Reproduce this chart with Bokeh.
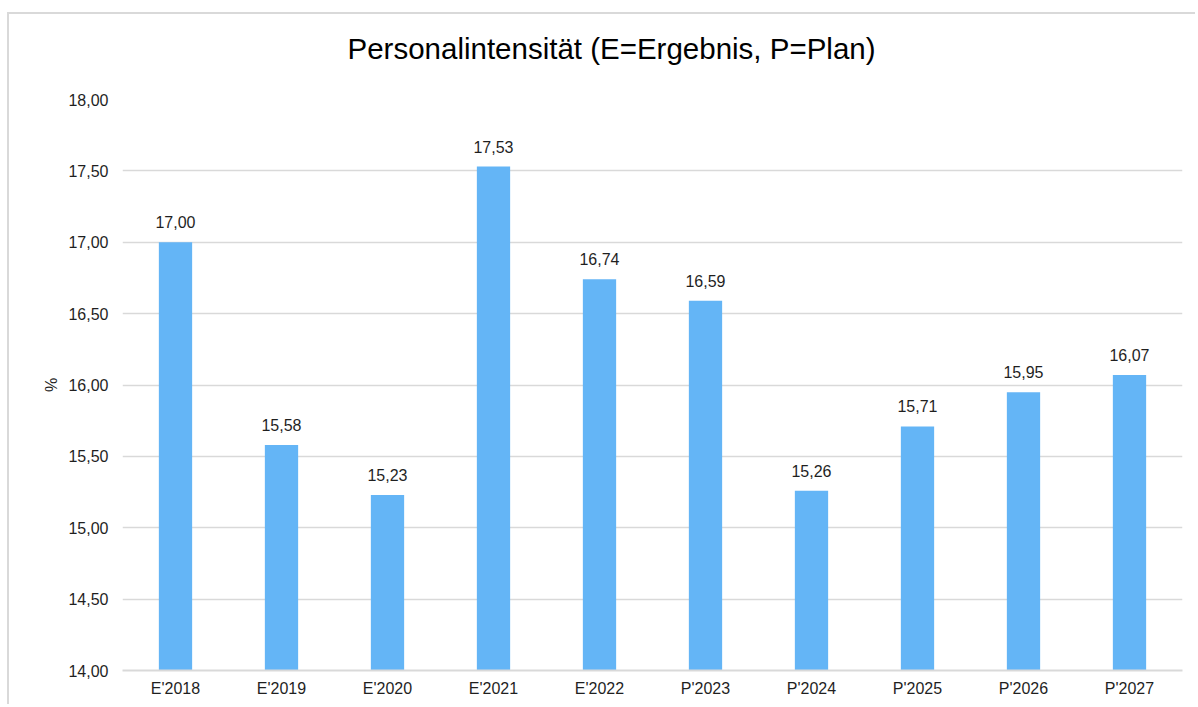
from bokeh.plotting import figure
from bokeh.models import (ColumnDataSource, FactorRange, Range1d, FixedTicker,
                          CustomJSTickFormatter, LabelSet)
from bokeh.core.properties import value
from bokeh.embed import file_html
from bokeh.resources import INLINE

categories = ["E'2018", "E'2019", "E'2020", "E'2021", "E'2022",
              "P'2023", "P'2024", "P'2025", "P'2026", "P'2027"]
values = [17.00, 15.58, 15.23, 17.53, 16.74, 16.59, 15.26, 15.71, 15.95, 16.07]
value_labels = ["17,00", "15,58", "15,23", "17,53", "16,74",
                "16,59", "15,26", "15,71", "15,95", "16,07"]
y_ticks = [14.0, 14.5, 15.0, 15.5, 16.0, 16.5, 17.0, 17.5, 18.0]
title_text = "Personalintensität (E=Ergebnis, P=Plan)"
y_label = "%"

FONT = "Liberation Sans"
TXT = "#1f1f1f"
GRID = "#d9d9d9"

src = ColumnDataSource(dict(cat=categories, val=values, lab=value_labels))

p = figure(x_range=FactorRange(*categories, range_padding=0),
           y_range=Range1d(14, 18),
           width=1188, height=692,
           output_backend="svg", toolbar_location=None,
           min_border_left=113, min_border_right=15,
           min_border_top=85, min_border_bottom=36)
# outer chart border (only left and top edges are visible in the reference)
p.styles = {"margin-left": "7px", "margin-top": "12px",
            "border-left": "2px solid #d9d9d9",
            "border-top": "2px solid #d9d9d9"}

p.title.text = title_text + "\n"
p.title.text_font = FONT
p.title.text_font_size = "29.5px"
p.title.text_font_style = "normal"
p.title.text_color = "#000000"
p.title.align = "left"
p.title.offset = 225
p.title.vertical_align = "top"
p.title.standoff = 0

p.outline_line_color = None
p.background_fill_color = "white"
p.border_fill_color = "white"

p.vbar(x="cat", top="val", bottom=14, width=0.314, source=src,
       fill_color="#64b5f6", line_color=None)

labels = LabelSet(x="cat", y="val", text="lab", source=src,
                  text_align="center", text_baseline="alphabetic",
                  y_offset=14, text_font=value(FONT), text_font_size="16px",
                  text_color=TXT)
p.add_layout(labels)

# y axis
p.yaxis.ticker = FixedTicker(ticks=y_ticks)
p.yaxis.formatter = CustomJSTickFormatter(code="return tick.toFixed(2).replace('.', ',');")
p.yaxis.axis_line_color = None
p.yaxis.major_tick_line_color = None
p.yaxis.minor_tick_line_color = None
p.yaxis.major_tick_out = 0
p.yaxis.major_tick_in = 0
p.yaxis.minor_tick_out = 0
p.yaxis.major_label_standoff = 14
p.yaxis.major_label_text_font = FONT
p.yaxis.major_label_text_font_size = "16px"
p.yaxis.major_label_text_color = TXT
p.yaxis.axis_label = y_label
p.yaxis.axis_label_text_font = FONT
p.yaxis.axis_label_text_font_size = "16px"
p.yaxis.axis_label_text_font_style = "normal"
p.yaxis.axis_label_text_color = TXT
p.yaxis.axis_label_standoff = 5

# x axis
p.xaxis.axis_line_color = GRID
p.xaxis.axis_line_width = 2
p.xaxis.major_tick_line_color = None
p.xaxis.minor_tick_line_color = None
p.xaxis.major_tick_out = 0
p.xaxis.major_tick_in = 0
p.xaxis.minor_tick_out = 0
p.xaxis.major_label_standoff = 9
p.xaxis.major_label_text_font = FONT
p.xaxis.major_label_text_font_size = "16px"
p.xaxis.major_label_text_color = TXT

p.xgrid.grid_line_color = None
p.ygrid.grid_line_color = GRID
p.ygrid.grid_line_width = 1.5

open("out.html", "w").write(file_html(p, INLINE))
